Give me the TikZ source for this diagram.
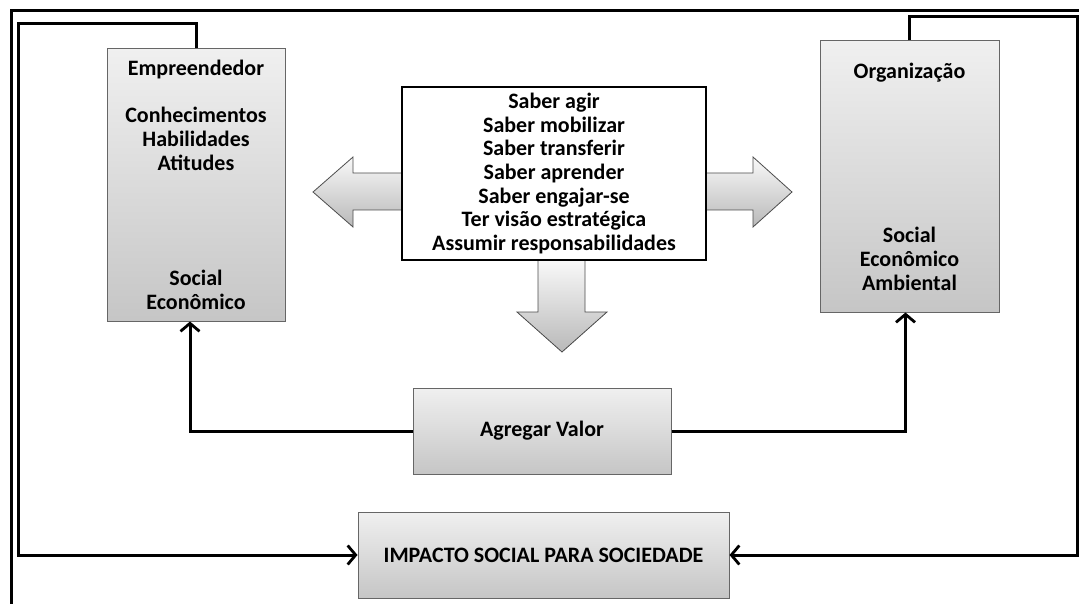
\documentclass[tikz,border=0pt]{standalone}
\usepackage{fontspec}
\setmainfont{Carlito}
\usetikzlibrary{arrows.meta,calc}

\begin{document}
\begin{tikzpicture}[x=1pt,y=-1pt]
	\tikzset{graybox/.style={draw=gray!80!black,line width=1pt,top color=gray!12,bottom color=gray!45,align=center,font=\bfseries\fontsize{22}{24}\selectfont}}
	\tikzset{textbox/.style={draw=black,line width=2pt,fill=white,align=center,font=\bfseries\fontsize{22}{23.7}\selectfont}}
	\tikzset{blockarrow/.style={draw=gray!60!black,line width=0.8pt,top color=gray!5,bottom color=gray!55}}
	\tikzset{conn/.style={line width=3pt,-{Straight Barb[length=8pt,width=19pt,line width=2.8pt]}}}
	\useasboundingbox (0,0) rectangle (1079,604);
	% page frame
	\draw[line width=3pt] (11,604) -- (11,11) -- (1079,11);
	% boxes
	\node[graybox,minimum width=178pt,minimum height=272pt] (emp) at (196,185)
		{Empreendedor\\[23pt]Conhecimentos\\Habilidades\\Atitudes\\[91pt]Social\\Econômico};
	\node[graybox,minimum width=179pt,minimum height=271pt] (org) at (909.5,176.5)
		{Organização\\[140pt]Social\\Econômico\\Ambiental};
	% block arrows
	\draw[blockarrow] (402,173) -- (353,173) -- (353,157) -- (313,192) -- (353,227) -- (353,210) -- (402,210);
	\draw[blockarrow] (706,173) -- (753,173) -- (753,157) -- (792,192) -- (753,227) -- (753,210) -- (706,210);
	\draw[blockarrow] (538,260) -- (538,312) -- (517,312) -- (562,352) -- (607,312) -- (585,312) -- (585,260);
	\node[textbox,minimum width=304pt,minimum height=173pt] (saber) at (554,173.5)
		{Saber agir\\Saber mobilizar\\Saber transferir\\Saber aprender\\Saber engajar-se\\Ter visão estratégica\\Assumir responsabilidades};
	\node[graybox,minimum width=258pt,minimum height=86pt] (agr) at (542,431) {Agregar Valor};
	\node[graybox,minimum width=371pt,minimum height=86pt] (imp) at (543.5,555) {IMPACTO SOCIAL PARA SOCIEDADE};
	% connectors
	\coordinate (loopL) at (18,24);
	\coordinate (loopR) at (1077,17);
	\draw[conn] (agr.west) -| ([xshift=-6pt]emp.south);
	\draw[conn] (agr.east) -| ([xshift=-4pt]org.south);
	\draw[conn] (emp.north) |- (loopL) -- (loopL |- imp.west) -- (imp.west);
	\draw[conn] (org.north) |- (loopR) -- (loopR |- imp.east) -- (imp.east);
\end{tikzpicture}
\end{document}
